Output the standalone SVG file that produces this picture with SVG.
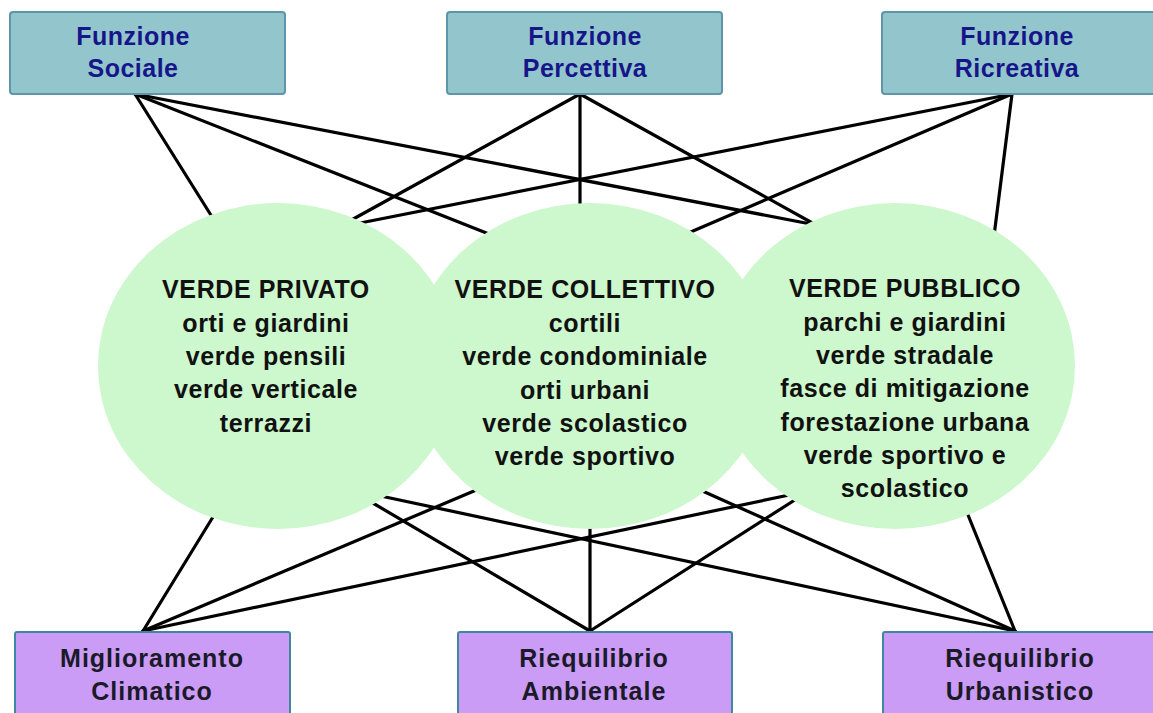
<svg xmlns="http://www.w3.org/2000/svg" width="1153" height="713" viewBox="0 0 1153 713">
<style>
.bg{fill:#ffffff}
.top rect{fill:#93c6cc;stroke:#5d95aa;stroke-width:2}
.bot rect{fill:#ca9cf6;stroke:#3f86a0;stroke-width:2}
.top text{fill:#16168a;font-family:"Liberation Sans",Arial,sans-serif;font-weight:bold;font-size:25px;letter-spacing:0.5px;text-anchor:middle}
.bot text{fill:#1a1a28;font-family:"Liberation Sans",Arial,sans-serif;font-weight:bold;font-size:25px;letter-spacing:1px;text-anchor:middle}
.circ ellipse{fill:#cdf7cd}
.circ text{fill:#111111;font-family:"Liberation Sans",Arial,sans-serif;font-weight:bold;font-size:25px;letter-spacing:0.6px;text-anchor:middle}
#connectors line{stroke:#000000;stroke-width:3.2;stroke-linecap:round}
</style>
<rect class="bg" x="0" y="0" width="1153" height="713"/>
<g id="connectors">
<line x1="135" y1="94" x2="214" y2="220"/>
<line x1="135" y1="94" x2="494" y2="236"/>
<line x1="135" y1="94" x2="816" y2="225"/>
<line x1="580" y1="94" x2="346" y2="223"/>
<line x1="580" y1="94" x2="580" y2="210"/>
<line x1="580" y1="94" x2="816" y2="225"/>
<line x1="1012" y1="94" x2="350" y2="225"/>
<line x1="1012" y1="94" x2="686" y2="234"/>
<line x1="1012" y1="94" x2="994" y2="236"/>
<line x1="143" y1="631" x2="216" y2="512"/>
<line x1="143" y1="631" x2="481" y2="488"/>
<line x1="143" y1="631" x2="794" y2="494"/>
<line x1="590" y1="631" x2="366" y2="499"/>
<line x1="590" y1="631" x2="590" y2="524"/>
<line x1="590" y1="631" x2="801" y2="496"/>
<line x1="1015" y1="631" x2="376" y2="495"/>
<line x1="1015" y1="631" x2="698" y2="489"/>
<line x1="1015" y1="631" x2="966" y2="510"/>
</g>
<g id="verde-privato" class="circ">
<ellipse cx="278" cy="366" rx="180" ry="163"/>
<text x="266" y="298">VERDE PRIVATO</text>
<text x="266" y="332">orti e giardini</text>
<text x="266" y="365">verde pensili</text>
<text x="266" y="398">verde verticale</text>
<text x="266" y="432">terrazzi</text>
</g>
<g id="verde-collettivo" class="circ">
<ellipse cx="590" cy="366" rx="180" ry="163"/>
<text x="585" y="298">VERDE COLLETTIVO</text>
<text x="585" y="332">cortili</text>
<text x="585" y="365">verde condominiale</text>
<text x="585" y="399">orti urbani</text>
<text x="585" y="432">verde scolastico</text>
<text x="585" y="465">verde sportivo</text>
</g>
<g id="verde-pubblico" class="circ">
<ellipse cx="895" cy="366" rx="180" ry="163"/>
<text x="905" y="297">VERDE PUBBLICO</text>
<text x="905" y="331">parchi e giardini</text>
<text x="905" y="364">verde stradale</text>
<text x="905" y="397">fasce di mitigazione</text>
<text x="905" y="431">forestazione urbana</text>
<text x="905" y="464">verde sportivo e</text>
<text x="905" y="497">scolastico</text>
</g>
<g id="funzione-sociale" class="top">
<rect x="10" y="12" width="275" height="82" rx="3"/>
<text x="133" y="45">Funzione</text>
<text x="133" y="77">Sociale</text>
</g>
<g id="funzione-percettiva" class="top">
<rect x="447" y="12" width="275" height="82" rx="3"/>
<text x="585" y="45">Funzione</text>
<text x="585" y="77">Percettiva</text>
</g>
<g id="funzione-ricreativa" class="top">
<rect x="882" y="12" width="280" height="82" rx="3"/>
<text x="1017" y="45">Funzione</text>
<text x="1017" y="77">Ricreativa</text>
</g>
<g id="miglioramento-climatico" class="bot">
<rect x="15" y="632" width="275" height="90" rx="2"/>
<text x="152" y="667">Miglioramento</text>
<text x="152" y="700">Climatico</text>
</g>
<g id="riequilibrio-ambientale" class="bot">
<rect x="458" y="632" width="274" height="90" rx="2"/>
<text x="594" y="667">Riequilibrio</text>
<text x="594" y="700">Ambientale</text>
</g>
<g id="riequilibrio-urbanistico" class="bot">
<rect x="883" y="632" width="280" height="90" rx="2"/>
<text x="1020" y="667">Riequilibrio</text>
<text x="1020" y="700">Urbanistico</text>
</g>
</svg>
